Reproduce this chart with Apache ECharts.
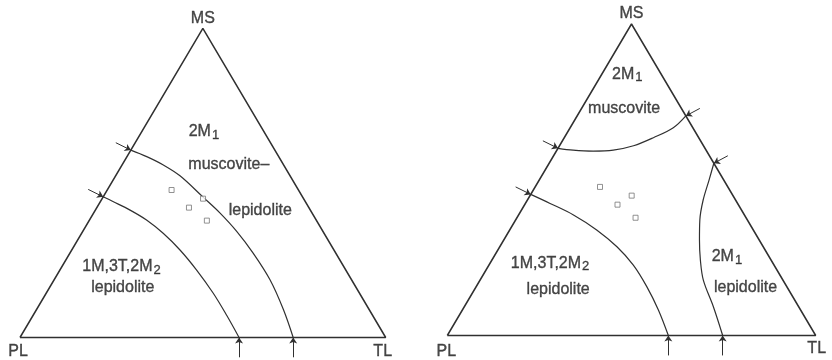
<!DOCTYPE html>
<html>
<head>
<meta charset="utf-8">
<script src="https://cdn.jsdelivr.net/npm/echarts@6/dist/echarts.min.js"></script>
<style>
html, body { margin: 0; padding: 0; background: #fff; }
#chart { width: 832px; height: 360px; }
</style>
</head>
<body>
<div id="chart"></div>
<script>
// all ternary points are [MS, TL] in percent, PL = 100 - MS - TL
const samples = [[47.7, 17.6], [44.9, 27.6], [42.0, 25.2], [37.8, 32.2]]

// left diagram
const leftOuterCurve = [[60.6, 0], [58.5, 5.4], [55.8, 11.3], [52.3, 17.6], [45.3, 27.5], [40.3, 34.5], [34.4, 42.0], [27.3, 50.1], [18.6, 59.1], [9.05, 67.5], [0, 74.7]]
const leftInnerCurve = [[45.5, 0], [43.9, 3.6], [41.2, 9.5], [38.0, 15.6], [33.7, 22.3], [28.3, 29.6], [21.8, 37.4], [14.3, 45.7], [7.1, 53.0], [0, 59.9]]
const leftLabels = [[66.6, 17.0, "2M_1"], [55.8, 29.2, "muscovite–"], [41.0, 45.2, "lepidolite"], [22.9, 16.3, "1M,3T,2M_2"], [16.2, 20.0, "lepidolite"]]

// right diagram
const rightUpperCurve = [[60.1, 0], [59.5, 4.4], [59.2, 10.0], [59.5, 15.3], [60.9, 20.1], [63.5, 24.2], [66.7, 28.0], [70.5, 29.5]]
const rightSideCurve = [[55.3, 44.7], [49.9, 46.1], [43.5, 47.7], [37.1, 50.0], [30.7, 53.1], [24.2, 56.6], [17.8, 60.6], [9.25, 67.6], [0, 74.75]]
const rightLowerCurve = [[45.3, 0], [42.4, 6.7], [38.7, 14.9], [33.9, 23.6], [28.5, 31.8], [22.6, 39.2], [15.7, 46.3], [8.2, 53.2], [0, 60.0]]
const rightLabels = [[83.9, 6.9, "2M_1"], [73.0, 11.5, "muscovite"], [23.2, 16.3, "1M,3T,2M_2"], [14.6, 22.8, "lepidolite"], [25.2, 63.3, "2M_1"], [15.3, 73.3, "lepidolite"]]

const vertexNames = ["PL", "TL", "MS"]
const vertices = [[0, 0], [0, 100], [100, 0]]

const ink = "#303030"
const textInk = "#1c1c1c"
const font = "Liberation Sans"
// the scanned lettering is a bit heavier than a plain regular face
const textWeight = {textBorderColor: textInk, textBorderWidth: 0.35}

function toXY(p) {
    return [p[1] + p[0] / 2, p[0]]
}

function richText(t) {
    let i = t.indexOf("_")
    if (i < 0) return "{n|" + t + "}"
    return "{n|" + t.slice(0, i) + "}{s|" + t.slice(i + 1) + "}"
}

// short arrows pointing at the curve ends, direction depends on the edge
const arrowDir = {left: [-4.1, 2.4], right: [3.8, 2.4], base: [0, -6.4]}
function edgeOf(p) {
    if (p[0] === 0) return "base"
    if (p[1] === 0) return "left"
    return "right"
}
function arrowsFor(curves) {
    let out = []
    curves.forEach(c => {
        [c[0], c[c.length - 1]].forEach(p => {
            let xy = toXY(p)
            let d = arrowDir[edgeOf(p)]
            out.push({coords: [[xy[0] + d[0], xy[1] + d[1]], xy]})
        })
    })
    return out
}

let grids = [
    {left: 20, top: 28.3, width: 365.7, height: 309.2},
    {left: 447.3, top: 24, width: 368.4, height: 311.5}
]
let vertexOffsets = [
    [[-2, 14], [-3, 14], [0, -10]],
    [[-1, 16], [1, 13], [0, -10]]
]

function panel(idx, curves, labels) {
    let series = []
    let outline = [vertices[0], vertices[1], vertices[2], vertices[0]].map(toXY)
    series.push({
        type: "line", xAxisIndex: idx, yAxisIndex: idx, data: outline,
        symbol: "none", clip: false, lineStyle: {color: ink, width: 1.5}, z: 2
    })
    curves.forEach(c => {
        series.push({
            type: "line", xAxisIndex: idx, yAxisIndex: idx, data: c.map(toXY),
            smooth: 0.35, symbol: "none", clip: false, lineStyle: {color: ink, width: 1.2}, z: 2
        })
    })
    series.push({
        type: "lines", coordinateSystem: "cartesian2d", xAxisIndex: idx, yAxisIndex: idx,
        data: arrowsFor(curves), clip: false,
        symbol: ["none", "arrow"], symbolSize: 6,
        lineStyle: {color: ink, width: 1, opacity: 1}, z: 3
    })
    series.push({
        type: "scatter", xAxisIndex: idx, yAxisIndex: idx, data: samples.map(toXY),
        symbol: "rect", symbolSize: 5, clip: false,
        itemStyle: {color: "#fff", borderColor: "#777", borderWidth: 1}, z: 4
    })
    series.push({
        type: "scatter", xAxisIndex: idx, yAxisIndex: idx, symbolSize: 1, clip: false,
        itemStyle: {color: "transparent"},
        data: labels.map(l => ({
            value: toXY(l),
            label: {
                show: true, position: "inside", formatter: richText(l[2]),
                rich: {
                    n: Object.assign({fontSize: 16, fontFamily: font, color: textInk}, textWeight),
                    s: Object.assign({fontSize: 13, fontFamily: font, color: textInk, padding: [7, 0, 0, 1]}, textWeight)
                }
            }
        })), z: 5
    })
    series.push({
        type: "scatter", xAxisIndex: idx, yAxisIndex: idx, symbolSize: 1, clip: false,
        itemStyle: {color: "transparent"},
        data: vertices.map((v, i) => ({
            value: toXY(v),
            label: Object.assign({
                show: true, position: "inside", offset: vertexOffsets[idx][i],
                formatter: vertexNames[i], fontSize: 16, fontFamily: font, color: textInk
            }, textWeight)
        })), z: 5
    })
    return series
}

let chartDom = document.getElementById("chart")
let myChart = echarts.init(chartDom, null, {renderer: "canvas"})

let axisBase = {type: "value", min: 0, max: 100, show: false}
let option = {
    animation: false,
    backgroundColor: "#fff",
    grid: grids,
    xAxis: [Object.assign({gridIndex: 0}, axisBase), Object.assign({gridIndex: 1}, axisBase)],
    yAxis: [Object.assign({gridIndex: 0}, axisBase), Object.assign({gridIndex: 1}, axisBase)],
    series: panel(0, [leftOuterCurve, leftInnerCurve], leftLabels)
        .concat(panel(1, [rightUpperCurve, rightSideCurve, rightLowerCurve], rightLabels))
}
myChart.setOption(option)
</script>
</body>
</html>
